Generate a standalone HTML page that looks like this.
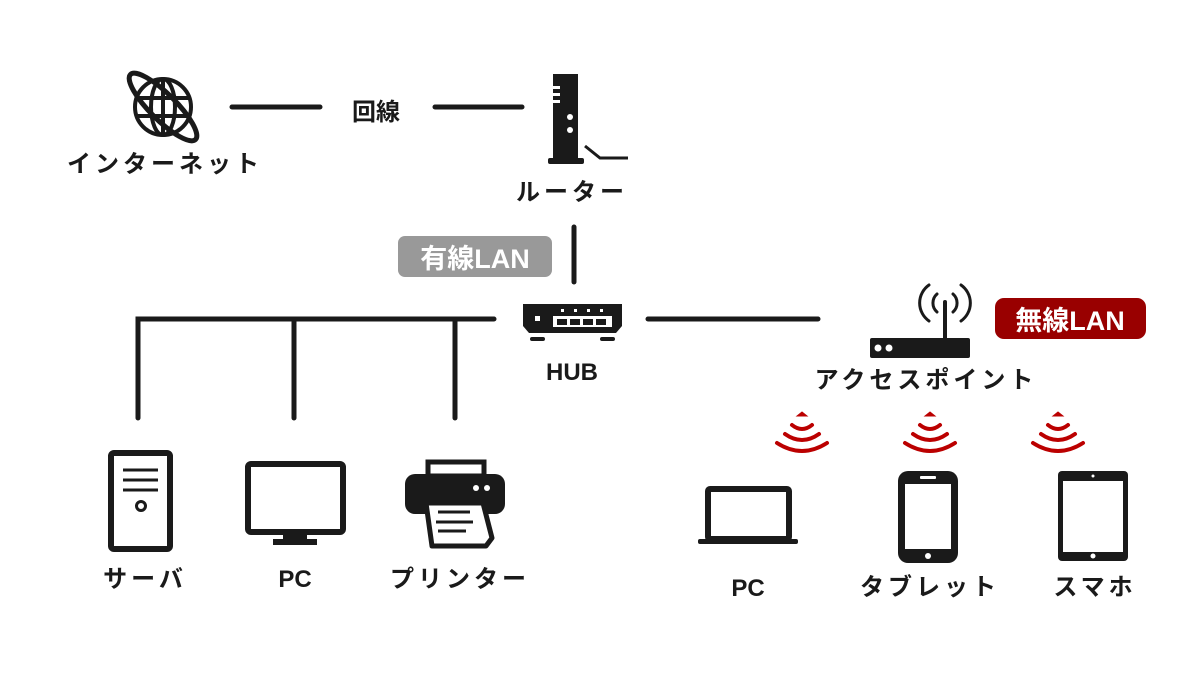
<!DOCTYPE html>
<html><head><meta charset="utf-8"><style>
html,body{margin:0;padding:0;background:#fff;width:1200px;height:680px;overflow:hidden}
svg text{font-family:"Liberation Sans","Noto Sans CJK JP",sans-serif;font-weight:bold;fill:#1a1a1a}
</style></head><body>
<svg width="1200" height="680" viewBox="0 0 1200 680" xmlns="http://www.w3.org/2000/svg">
<g stroke="#1a1a1a" stroke-width="5" stroke-linecap="round" fill="none">
<line x1="232" y1="107" x2="320" y2="107"/>
<line x1="435" y1="107" x2="522" y2="107"/>
<line x1="574" y1="227" x2="574" y2="282"/>
<polyline points="138,418 138,319 494,319"/>
<line x1="294" y1="319" x2="294" y2="418"/>
<line x1="455" y1="319" x2="455" y2="418"/>
<line x1="648" y1="319" x2="818" y2="319"/>
</g>
<!-- globe -->
<g stroke="#1a1a1a" stroke-width="4" fill="none">
<circle cx="163" cy="107" r="28"/>
<ellipse cx="163" cy="107" rx="12" ry="28"/>
<line x1="163" y1="79" x2="163" y2="135"/>
<line x1="136" y1="98" x2="190" y2="98"/>
<line x1="136" y1="116" x2="190" y2="116"/>
<ellipse cx="163" cy="107" rx="46" ry="13" transform="rotate(45 163 107)" stroke-width="5"/>
</g>
<text x="165" y="172" font-size="24" text-anchor="middle" letter-spacing="4">インターネット</text>
<text x="376" y="120" font-size="24" text-anchor="middle">回線</text>
<!-- router -->
<rect x="553" y="74" width="25" height="84" fill="#1a1a1a"/>
<rect x="553" y="86" width="7" height="3" fill="#fff"/>
<rect x="553" y="93" width="7" height="3" fill="#fff"/>
<rect x="553" y="100" width="7" height="3" fill="#fff"/>
<circle cx="570" cy="117" r="3" fill="#fff"/><circle cx="570" cy="130" r="3" fill="#fff"/>
<rect x="548" y="158" width="36" height="6" rx="2" fill="#1a1a1a"/>
<polyline points="585,146 600,158 628,158" stroke="#1a1a1a" stroke-width="3" fill="none"/>
<text x="572" y="200" font-size="24" text-anchor="middle" letter-spacing="4">ルーター</text>
<!-- wired badge -->
<rect x="398" y="236" width="154" height="41" rx="7" fill="#999"/>
<text x="475" y="268" font-size="27" text-anchor="middle" style="fill:#fff">有線LAN</text>
<!-- hub -->
<path d="M523,304 H622 V326 L616,333 H529 L523,326 Z" fill="#1a1a1a"/>
<rect x="535" y="316" width="5" height="5" fill="#fff"/>
<rect x="553" y="316" width="59" height="11" fill="#fff"/>
<g fill="#1a1a1a"><rect x="557" y="319" width="10" height="6"/><rect x="570" y="319" width="10" height="6"/><rect x="583" y="319" width="10" height="6"/><rect x="596" y="319" width="10" height="6"/></g>
<g fill="#fff"><rect x="561" y="309" width="3" height="3"/><rect x="574" y="309" width="3" height="3"/><rect x="587" y="309" width="3" height="3"/><rect x="600" y="309" width="3" height="3"/></g>
<rect x="530" y="337" width="15" height="4" rx="2" fill="#1a1a1a"/><rect x="600" y="337" width="15" height="4" rx="2" fill="#1a1a1a"/>
<text x="572" y="380" font-size="24" text-anchor="middle">HUB</text>
<!-- AP -->
<rect x="870" y="338" width="100" height="20" rx="2" fill="#1a1a1a"/>
<circle cx="878" cy="348" r="3.5" fill="#fff"/><circle cx="889" cy="348" r="3.5" fill="#fff"/>
<line x1="945" y1="302" x2="945" y2="338" stroke="#1a1a1a" stroke-width="4" stroke-linecap="round"/>
<g stroke="#1a1a1a" stroke-width="3" fill="none" stroke-linecap="round">
<path d="M937,294 a12,12 0 0 0 0,18"/><path d="M953,294 a12,12 0 0 1 0,18"/>
<path d="M929,285 a22,22 0 0 0 0,36"/><path d="M961,285 a22,22 0 0 1 0,36"/>
</g>
<rect x="995" y="298" width="151" height="41" rx="9" fill="#990000"/>
<text x="1070" y="330" font-size="27" text-anchor="middle" style="fill:#fff">無線LAN</text>
<text x="926" y="388" font-size="24" text-anchor="middle" letter-spacing="4">アクセスポイント</text>
<!-- wifi red -->
<g id="w" stroke="#b00" stroke-width="4" fill="none" stroke-linecap="round">
<path d="M797,416 l5,-4 l5,4 Z" fill="#b00" stroke-width="1"/>
<path d="M792,425 q10,8 20,0"/>
<path d="M785,434 q17,12 34,0"/>
<path d="M777,443 q25,16 50,0"/>
</g>
<use href="#w" x="128"/><use href="#w" x="256"/>
<!-- laptop -->
<rect x="708" y="489" width="81" height="50" rx="2" fill="none" stroke="#1a1a1a" stroke-width="6"/>
<rect x="698" y="539" width="100" height="5" rx="2" fill="#1a1a1a"/>
<text x="748" y="596" font-size="24" text-anchor="middle">PC</text>
<!-- phone -->
<rect x="898" y="471" width="60" height="92" rx="10" fill="#1a1a1a"/>
<rect x="905" y="484" width="46" height="65" fill="#fff"/>
<rect x="920" y="476" width="16" height="3" rx="1" fill="#fff"/>
<circle cx="928" cy="556" r="3" fill="#fff"/>
<text x="930" y="595" font-size="24" text-anchor="middle" letter-spacing="4">タブレット</text>
<!-- tablet -->
<rect x="1058" y="471" width="70" height="90" rx="4" fill="#1a1a1a"/>
<rect x="1063" y="481" width="60" height="71" fill="#fff"/>
<circle cx="1093" cy="476" r="1.5" fill="#fff"/><circle cx="1093" cy="556" r="2.5" fill="#fff"/>
<text x="1095" y="595" font-size="24" text-anchor="middle" letter-spacing="4">スマホ</text>
<!-- server -->
<rect x="111" y="453" width="59" height="96" rx="3" fill="none" stroke="#1a1a1a" stroke-width="6"/>
<g stroke="#1a1a1a" stroke-width="3"><line x1="123" y1="470" x2="158" y2="470"/><line x1="123" y1="480" x2="158" y2="480"/><line x1="123" y1="490" x2="158" y2="490"/></g>
<circle cx="141" cy="506" r="4.5" fill="none" stroke="#1a1a1a" stroke-width="3"/>
<text x="145" y="587" font-size="24" text-anchor="middle" letter-spacing="4">サーバ</text>
<!-- monitor -->
<rect x="248" y="464" width="95" height="68" rx="3" fill="none" stroke="#1a1a1a" stroke-width="6"/>
<rect x="283" y="532" width="24" height="8" fill="#1a1a1a"/>
<rect x="273" y="539" width="44" height="6" fill="#1a1a1a"/>
<text x="295" y="587" font-size="24" text-anchor="middle">PC</text>
<!-- printer -->
<rect x="428" y="462" width="56" height="14" fill="none" stroke="#1a1a1a" stroke-width="5"/>
<rect x="405" y="474" width="100" height="40" rx="10" fill="#1a1a1a"/>
<circle cx="476" cy="488" r="3" fill="#fff"/><circle cx="487" cy="488" r="3" fill="#fff"/>
<path d="M426,503 L483,503 L492,538 L486,546 L432,546 Z" fill="#fff" stroke="#1a1a1a" stroke-width="5" stroke-linejoin="round"/>
<g stroke="#1a1a1a" stroke-width="3"><line x1="438" y1="512" x2="470" y2="512"/><line x1="436" y1="522" x2="473" y2="522"/><line x1="438" y1="531" x2="466" y2="531"/></g>
<text x="460" y="587" font-size="24" text-anchor="middle" letter-spacing="4">プリンター</text>
</svg>
</body></html>
